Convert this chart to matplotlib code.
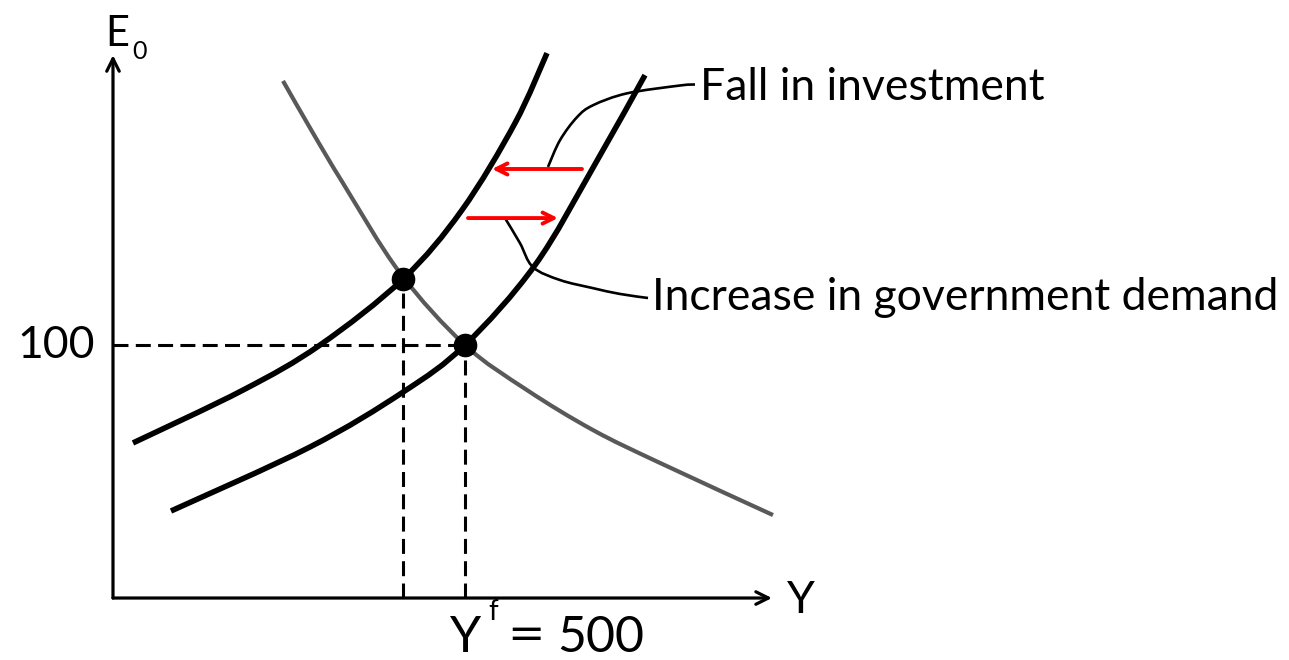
import matplotlib.pyplot as plt
from matplotlib.path import Path
from matplotlib.patches import PathPatch

plt.rcParams['font.family'] = ['Lato', 'DejaVu Sans']

# curves (Y on x axis, E0 on y axis)
ad1_x = [28.4, 184.7, 294.0, 412.0, 495.8, 571.0, 616.5]
ad1_y = [61.3, 82.2, 100.0, 126.1, 153.4, 187.7, 215.4]

ad2_x = [82.4, 279.8, 412.0, 500.0, 599.5, 683.3, 755.7]
ad2_y = [34.4, 59.7, 81.4, 100.0, 131.6, 170.8, 206.7]

gray_x = [241.5, 284.1, 326.7, 407.7, 500.0, 588.1, 681.8, 777.0, 937.5]
gray_y = [204.4, 183.8, 164.0, 128.5, 100.0, 82.2, 66.4, 53.4, 32.8]

# equilibrium points
eq_x = [412.0, 500.0]
eq_y = [126.1, 100.0]

# annotation leader lines
fall_x = [617.9, 635.0, 659.2, 681.9, 730.1, 805.4, 826.7]
fall_y = [170.4, 181.0, 190.1, 194.8, 199.5, 202.6, 203.0]
inc_x = [556.8, 578.1, 596.6, 635.0, 681.8, 720.2, 760.0]
inc_y = [150.2, 140.3, 130.8, 125.7, 122.5, 120.2, 118.6]

# shift arrows (start, end)
left_arrow = [(666.2, 169.6), (538.4, 169.6)]
right_arrow = [(504.3, 150.2), (632.1, 150.2)]


def smooth_path(xs, ys):
    # Catmull-Rom through the points, drawn as cubic bezier segments
    pts = list(zip(xs, ys))
    verts = [pts[0]]
    codes = [Path.MOVETO]
    for i in range(len(pts) - 1):
        p0 = pts[i - 1] if i > 0 else pts[i]
        p1 = pts[i]
        p2 = pts[i + 1]
        p3 = pts[i + 2] if i + 2 < len(pts) else pts[i + 1]
        c1 = (p1[0] + (p2[0] - p0[0]) / 6, p1[1] + (p2[1] - p0[1]) / 6)
        c2 = (p2[0] - (p3[0] - p1[0]) / 6, p2[1] - (p3[1] - p1[1]) / 6)
        verts += [c1, c2, p2]
        codes += [Path.CURVE4] * 3
    return Path(verts, codes)


fig = plt.figure(figsize=(12.89, 6.6), dpi=100)
ax = fig.add_axes([0, 0, 1, 1])
ax.set_xlim(-160.5, 1670.5)
ax.set_ylim(-24.5, 236.4)
ax.axis('off')

# axes with arrow heads
ax.annotate('', xy=(0, 214.6), xytext=(0, 0),
            arrowprops=dict(arrowstyle='->,head_length=0.9,head_width=0.45', lw=2.3, color='black',
                            shrinkA=0, shrinkB=0))
ax.annotate('', xy=(936, 0), xytext=(0, 0),
            arrowprops=dict(arrowstyle='->,head_length=0.9,head_width=0.45', lw=2.3, color='black',
                            shrinkA=0, shrinkB=0))

# dashed guide lines
dash = (4.9, 2.4)
ax.plot([0, eq_x[1]], [eq_y[1], eq_y[1]], color='black', lw=2.2, dashes=dash)
ax.plot([eq_x[0], eq_x[0]], [0, eq_y[0]], color='black', lw=2.2, dashes=dash)
ax.plot([eq_x[1], eq_x[1]], [0, eq_y[1]], color='black', lw=2.2, dashes=dash)

# curves
ax.add_patch(PathPatch(smooth_path(gray_x, gray_y), fill=False, edgecolor='#595959', lw=3.0))
ax.add_patch(PathPatch(smooth_path(ad1_x, ad1_y), fill=False, edgecolor='black', lw=4.0))
ax.add_patch(PathPatch(smooth_path(ad2_x, ad2_y), fill=False, edgecolor='black', lw=4.0))

ax.plot(eq_x, eq_y, 'o', color='black', markersize=16)

# leader lines
ax.add_patch(PathPatch(smooth_path(fall_x, fall_y), fill=False, edgecolor='black', lw=1.9))
ax.add_patch(PathPatch(smooth_path(inc_x, inc_y), fill=False, edgecolor='black', lw=1.9))

# red shift arrows
for a in (left_arrow, right_arrow):
    ax.annotate('', xy=a[1], xytext=a[0],
                arrowprops=dict(arrowstyle='->,head_length=0.8,head_width=0.4', lw=2.8, color='#ff0000',
                                shrinkA=0, shrinkB=0))

# labels
ax.text(-25.6, 100, '100', fontsize=32, ha='right', va='center')
ax.text(5.7, 222.9, 'E', fontsize=30, ha='center', va='center')
ax.text(38, 216.2, '0', fontsize=18, ha='center', va='center')
ax.text(977, -0.8, 'Y', fontsize=32, ha='center', va='center')
ax.text(833.8, 202, 'Fall in investment', fontsize=32, ha='left', va='center')
ax.text(765.6, 118.6, 'Increase in government demand', fontsize=32, ha='left', va='center')

ax.text(501.4, -21.4, 'Y', fontsize=36, ha='center', va='baseline')
ax.text(539.8, -5.4, 'f', fontsize=20, ha='center', va='center')
ax.text(586.5, -19.6, '=', fontsize=32, ha='center', va='baseline', family='DejaVu Sans')
ax.text(693.2, -21.4, '500', fontsize=36, ha='center', va='baseline')

fig.savefig('out.png', dpi=100)
